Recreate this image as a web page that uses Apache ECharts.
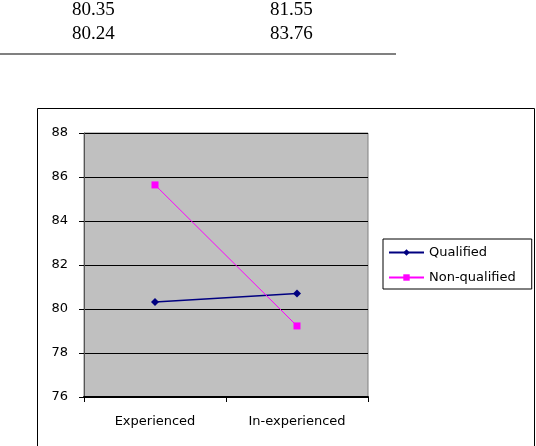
<!DOCTYPE html>
<html>
<head>
<meta charset="utf-8">
<script src="https://cdn.jsdelivr.net/npm/echarts@6/dist/echarts.min.js"></script>
<style>
  html, body { margin: 0; padding: 0; background: #fff; }
  #chart { width: 536px; height: 446px; }
</style>
</head>
<body>
<div id="chart"></div>
<script>
// table fragment above the chart
var tableCol1 = ['80.35', '80.24'];
var tableCol2 = ['81.55', '83.76'];

// chart data
var categories = ['Experienced', 'In-experienced'];
var qualified = [80.32, 80.70];
var nonQualified = [85.64, 79.23];
var seriesNames = ['Qualified', 'Non-qualified'];

var myChart = echarts.init(document.getElementById('chart'));

var tableText = [];
tableCol1.forEach(function (v, i) {
  tableText.push({
    type: 'text', left: 72, top: 1 + i * 24,
    style: { text: v, font: '19px "Liberation Serif"', fill: '#000' }
  });
});
tableCol2.forEach(function (v, i) {
  tableText.push({
    type: 'text', left: 270, top: 1 + i * 24,
    style: { text: v, font: '19px "Liberation Serif"', fill: '#000' }
  });
});

var axisFont = { fontFamily: 'DejaVu Sans', fontSize: 13, color: '#000' };

var option = {
  animation: false,
  backgroundColor: '#fff',
  graphic: tableText.concat([
    {
      type: 'line',
      shape: { x1: 0, y1: 54, x2: 396, y2: 54 },
      style: { stroke: '#808080', lineWidth: 2 }
    },
    {
      type: 'rect',
      shape: { x: 37.5, y: 108.5, width: 497, height: 400 },
      style: { fill: 'none', stroke: '#000', lineWidth: 1 },
      z: -1
    }
  ]),
  grid: {
    left: 84, top: 133, width: 284, height: 264,
    show: true,
    backgroundColor: '#c0c0c0',
    borderColor: '#808080',
    borderWidth: 1
  },
  legend: {
    data: seriesNames,
    orient: 'vertical',
    left: 383, top: 239,
    padding: [7, 16, 5, 5],
    itemWidth: 35, itemHeight: 8,
    itemGap: 12,
    borderColor: '#000', borderWidth: 1,
    backgroundColor: '#fff',
    textStyle: { fontFamily: 'DejaVu Sans', fontSize: 13, color: '#000' }
  },
  xAxis: {
    type: 'category',
    data: categories,
    boundaryGap: true,
    axisLine: { show: true, lineStyle: { color: '#000', width: 2 } },
    axisTick: { show: true, length: 5, lineStyle: { color: '#000' } },
    axisLabel: Object.assign({ margin: 18 }, axisFont),
    splitLine: { show: false }
  },
  yAxis: {
    type: 'value',
    min: 76, max: 88, interval: 2,
    axisLine: { show: true, lineStyle: { color: '#555', width: 1 } },
    axisTick: { show: true, length: 5, lineStyle: { color: '#000' } },
    axisLabel: Object.assign({ margin: 16 }, axisFont),
    splitLine: { show: true, lineStyle: { color: '#000', width: 1 } }
  },
  series: [
    {
      name: seriesNames[0],
      type: 'line',
      data: qualified,
      symbol: 'diamond',
      symbolSize: 8,
      itemStyle: { color: '#000080' },
      lineStyle: { color: '#000080', width: 1.5 }
    },
    {
      name: seriesNames[1],
      type: 'line',
      data: nonQualified,
      symbol: 'rect',
      symbolSize: 7,
      itemStyle: { color: '#ff00ff' },
      lineStyle: { color: '#ff00ff', width: 1 }
    }
  ]
};

myChart.setOption(option);
</script>
</body>
</html>
